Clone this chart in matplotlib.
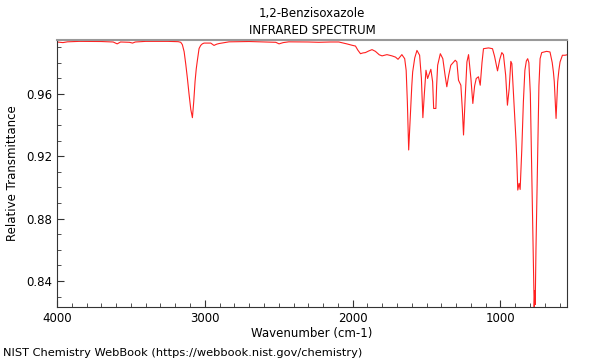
import matplotlib
matplotlib.use('Agg')
import matplotlib.pyplot as plt
from matplotlib.ticker import MultipleLocator

# spectrum points (wavenumber cm-1, relative transmittance)
wavenumber = [4000, 3960, 3930, 3850, 3700, 3620, 3593, 3570, 3510, 3489, 3470, 3400, 3250, 3180,
              3163, 3152, 3140, 3129, 3118, 3107, 3095, 3084, 3075, 3066, 3058, 3051, 3039, 3028,
              3017, 3005, 2960, 2938, 2920, 2904, 2836, 2700, 2600, 2520, 2498, 2470, 2432, 2300,
              2229, 2150, 2094, 2040, 2004, 1981, 1965, 1947, 1930, 1914, 1890, 1869, 1846, 1820,
              1801, 1768, 1734, 1710, 1693, 1667, 1648, 1638, 1630, 1621, 1610, 1600, 1594, 1580,
              1565, 1547, 1535, 1525, 1515, 1504, 1493, 1471, 1459, 1452, 1437, 1432, 1425, 1407,
              1390, 1375, 1363, 1350, 1336, 1306, 1295, 1284, 1268, 1258, 1250, 1240, 1227, 1216,
              1200, 1187, 1175, 1164, 1149, 1137, 1125, 1115, 1081, 1054, 1040, 1020, 1005, 991,
              980, 965, 953, 941, 930, 923, 915, 905, 895, 890, 883, 874, 867, 856, 845, 835, 825,
              816, 808, 798, 791, 780, 772, 768, 765, 760, 748, 740, 732, 721, 688, 665, 650, 642,
              636, 624, 613, 605, 597, 581, 563, 550]
transmittance = [0.9932, 0.9928, 0.9933, 0.9936, 0.9935, 0.9932, 0.9920, 0.9932, 0.9930, 0.9925,
                 0.9932, 0.9936, 0.9936, 0.9934, 0.9930, 0.9915, 0.987, 0.979, 0.970, 0.960, 0.950,
                 0.9447, 0.955, 0.968, 0.976, 0.981, 0.989, 0.991, 0.9920, 0.9925, 0.9925, 0.9910,
                 0.9918, 0.9922, 0.9933, 0.9935, 0.9932, 0.9930, 0.9920, 0.9928, 0.9933, 0.9932,
                 0.9930, 0.9932, 0.9932, 0.9920, 0.9911, 0.9906, 0.9880, 0.9857, 0.9862, 0.9864,
                 0.9875, 0.9883, 0.9872, 0.9850, 0.9843, 0.9851, 0.9843, 0.9835, 0.9821, 0.9851,
                 0.9825, 0.975, 0.955, 0.9240, 0.945, 0.965, 0.9740, 0.9830, 0.9878, 0.9847, 0.970,
                 0.9447, 0.960, 0.9751, 0.9698, 0.9757, 0.9677, 0.9506, 0.9506, 0.965, 0.9783,
                 0.9857, 0.9825, 0.972, 0.9645, 0.972, 0.9783, 0.9815, 0.9804, 0.9687, 0.9655,
                 0.950, 0.9336, 0.955, 0.9804, 0.9851, 0.9698, 0.9538, 0.965, 0.9698, 0.9709,
                 0.9655, 0.980, 0.9889, 0.9894, 0.9889, 0.984, 0.9747, 0.982, 0.9864, 0.9851,
                 0.972, 0.9527, 0.9634, 0.9808, 0.9793, 0.965, 0.9463, 0.930, 0.9187, 0.8983,
                 0.9026, 0.8987, 0.9238, 0.955, 0.975, 0.9810, 0.9825, 0.9800, 0.960, 0.9238, 0.870,
                 0.8234, 0.8338, 0.8250, 0.860, 0.9238, 0.965, 0.9825, 0.9864, 0.9872, 0.9868,
                 0.980, 0.9740, 0.9677, 0.9442, 0.9677, 0.975, 0.9804, 0.9847, 0.9847, 0.9850]

x_ticks = [4000, 3000, 2000, 1000]
y_ticks = [0.84, 0.88, 0.92, 0.96]

fig = plt.figure(figsize=(6, 3.6), dpi=100)
ax = fig.add_axes([0.095, 0.1465, 0.85, 0.7425])

ax.plot(wavenumber, transmittance, color='#ff2020', linewidth=0.8)

ax.set_xlim(4000, 550)
ax.set_ylim(0.8232, 0.9945)
ax.set_xticks(x_ticks)
ax.set_yticks(y_ticks)
ax.set_yticklabels([f'{v:.2f}' for v in y_ticks])
ax.xaxis.set_minor_locator(MultipleLocator(100))
ax.yaxis.set_minor_locator(MultipleLocator(0.01))
ax.tick_params(which='both', direction='in', labelsize=8.5, top=False, right=False, color='#333333')
ax.tick_params(which='major', length=5)
ax.tick_params(which='minor', length=3)

for side in ['left', 'bottom', 'right']:
    ax.spines[side].set_color('#333333')
ax.spines['top'].set_color('#999999')
ax.spines['top'].set_linewidth(1.5)

ax.set_xlabel('Wavenumber (cm-1)', fontsize=8.5, labelpad=1)
ax.set_ylabel('Relative Transmittance', fontsize=8.5, labelpad=5)

fig.text(0.52, 0.963, '1,2-Benzisoxazole', ha='center', va='center', fontsize=8.5)
fig.text(0.52, 0.916, 'INFRARED SPECTRUM', ha='center', va='center', fontsize=8.5)
fig.text(0.005, 0.02, 'NIST Chemistry WebBook (https://webbook.nist.gov/chemistry)',
         ha='left', va='center', fontsize=8.2)

fig.savefig('out.png', dpi=100)
